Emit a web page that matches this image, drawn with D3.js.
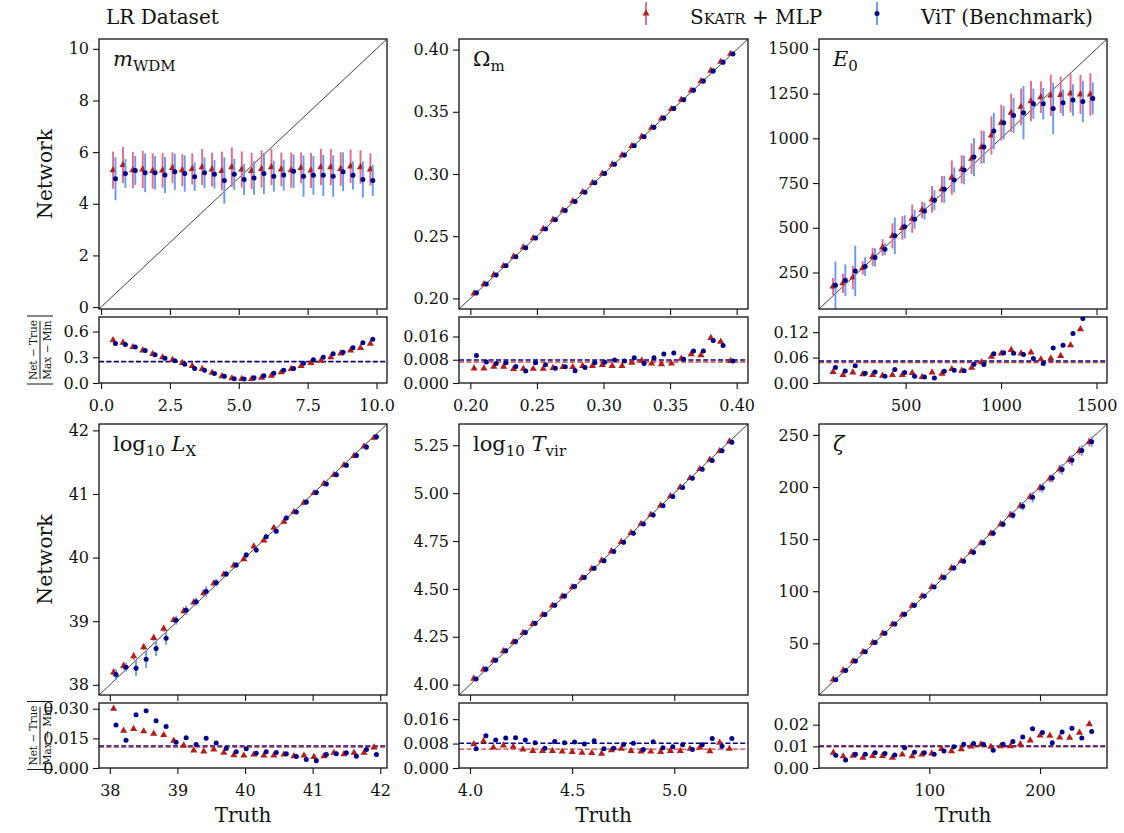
<!DOCTYPE html>
<html><head><meta charset="utf-8">
<script src="https://cdn.jsdelivr.net/npm/d3@7"></script>
<style>
body{margin:0;background:#fff}
svg{display:block}
text{font-family:"DejaVu Serif",serif;fill:#111}
</style>
</head><body><svg id="c" width="1124" height="833"></svg>
<script>
// ---------------- DATA ----------------
const seriesNames = ["SKATR + MLP", "ViT (Benchmark)"];

// m_WDM
const mwdmTruth = [0.480,0.839,1.198,1.557,1.917,2.276,2.635,2.994,3.354,3.713,4.072,4.431,4.791,5.150,5.509,5.869,6.228,6.587,6.946,7.306,7.665,8.024,8.383,8.743,9.102,9.461,9.820];
const mwdmSkatr = [5.30,5.50,5.30,5.33,5.27,5.29,5.39,5.30,5.35,5.42,5.33,5.27,5.42,5.33,5.27,5.35,5.42,5.33,5.30,5.39,5.29,5.42,5.42,5.35,5.45,5.42,5.33];
const mwdmSkatrErr = [0.72,0.70,0.70,0.72,0.68,0.67,0.60,0.62,0.60,0.70,0.65,0.75,0.77,0.70,0.70,0.72,0.70,0.65,0.68,0.60,0.68,0.70,0.70,0.65,0.65,0.65,0.62];
const mwdmVit = [4.97,5.17,5.29,5.20,5.20,5.11,5.24,5.17,5.05,5.20,5.14,4.90,5.14,4.94,5.00,5.17,5.07,5.11,5.26,5.07,5.10,5.10,5.07,5.24,5.10,4.94,4.90];
const mwdmVitErr = [0.83,0.56,0.56,0.75,0.65,0.70,0.70,0.70,0.55,0.60,0.55,0.90,0.60,0.60,0.65,0.80,0.60,0.60,0.65,0.80,0.75,0.80,0.80,0.75,0.55,0.70,0.60];
const mwdmSkatrRes = [0.50,0.47,0.42,0.38,0.34,0.30,0.27,0.235,0.20,0.165,0.12,0.08,0.055,0.047,0.047,0.063,0.086,0.125,0.165,0.20,0.235,0.26,0.30,0.345,0.38,0.41,0.46];
const mwdmVitRes = [0.46,0.45,0.42,0.38,0.33,0.29,0.26,0.22,0.17,0.15,0.11,0.08,0.05,0.047,0.06,0.086,0.114,0.15,0.17,0.23,0.27,0.30,0.34,0.36,0.41,0.47,0.51];
const mwdmAvg = [0.246, 0.250];

// Omega_m
const omTruth = [0.2037,0.2111,0.2185,0.2259,0.2333,0.2407,0.2481,0.2556,0.2630,0.2704,0.2778,0.2852,0.2926,0.3000,0.3074,0.3148,0.3222,0.3296,0.3370,0.3444,0.3519,0.3593,0.3667,0.3741,0.3815,0.3889,0.3963];
const omSkatr = [0.2040,0.2114,0.2189,0.2262,0.2336,0.2410,0.2484,0.2559,0.2633,0.2707,0.2781,0.2855,0.2929,0.3003,0.3077,0.3151,0.3226,0.3300,0.3373,0.3447,0.3522,0.3597,0.3671,0.3746,0.3830,0.3902,0.3966];
const omSkatrErr = [0.0015,0.0015,0.0016,0.0015,0.0014,0.0015,0.0015,0.0014,0.0015,0.0015,0.0016,0.0015,0.0015,0.0016,0.0015,0.0015,0.0016,0.0017,0.0016,0.0016,0.0016,0.0018,0.0019,0.0019,0.0022,0.0021,0.0017];
const omVit = [0.2045,0.2116,0.2188,0.2263,0.2335,0.2408,0.2485,0.2558,0.2632,0.2706,0.2779,0.2854,0.2930,0.3004,0.3079,0.3153,0.3228,0.3299,0.3376,0.3451,0.3527,0.3597,0.3674,0.3748,0.3828,0.3899,0.3965];
const omVitErr = [0.0020,0.0018,0.0017,0.0017,0.0016,0.0015,0.0017,0.0016,0.0015,0.0016,0.0015,0.0016,0.0017,0.0017,0.0018,0.0018,0.0019,0.0017,0.0019,0.0020,0.0021,0.0019,0.0022,0.0022,0.0025,0.0024,0.0018];
const omSkatrRes = [0.0050,0.0050,0.0056,0.0056,0.0048,0.0049,0.0049,0.0049,0.0052,0.0055,0.0055,0.0059,0.0059,0.0062,0.0059,0.0059,0.0070,0.0077,0.0067,0.0065,0.0067,0.0084,0.0099,0.0096,0.0155,0.0142,0.0076];
const omVitRes = [0.0095,0.0072,0.0067,0.0070,0.0057,0.0041,0.0070,0.0063,0.0051,0.0056,0.0042,0.0053,0.0070,0.0071,0.0079,0.0076,0.0087,0.0067,0.0087,0.0100,0.0103,0.0082,0.0110,0.0110,0.0146,0.0129,0.0076];
const omAvg = [0.0072, 0.0079];

// E_0
const e0Truth = [125.9,177.8,229.6,281.5,333.3,385.2,437.0,488.9,540.7,592.6,644.4,696.3,748.1,800.0,851.9,903.7,955.6,1007.4,1059.3,1111.1,1163.0,1214.8,1266.7,1318.5,1370.4,1422.2,1474.1];
const e0Skatr = [172,190,222,276,337,390,455,499,551,600,659,715,780,827,886,951,1016,1087,1143,1176,1208,1230,1240,1243,1251,1245,1245];
const e0SkatrErr = [48,54,65,37,51,46,70,65,79,46,74,74,96,79,86,93,107,100,107,102,112,88,116,102,107,109,119];
const e0Vit = [179,207,259,283,334,380,455,505,548,594,654,715,767,823,895,951,1041,1087,1128,1143,1193,1193,1167,1199,1214,1206,1223];
const e0VitErr = [133,88,141,52,51,33,102,65,53,48,56,75,70,80,107,90,102,93,98,149,84,88,144,74,88,116,90];
const e0SkatrRes = [0.026,0.019,0.025,0.021,0.019,0.0175,0.019,0.019,0.024,0.014,0.025,0.022,0.033,0.029,0.036,0.049,0.062,0.070,0.078,0.070,0.072,0.056,0.058,0.064,0.089,0.127,0.164];
const e0VitRes = [0.0366,0.0286,0.0405,0.023,0.026,0.016,0.032,0.025,0.016,0.014,0.012,0.028,0.030,0.029,0.0445,0.0437,0.069,0.0715,0.070,0.0675,0.058,0.046,0.0827,0.089,0.117,0.152,0.179];
const e0Avg = [0.0485, 0.052];

// log10 L_X
const lxTruth = [38.074,38.222,38.370,38.519,38.667,38.815,38.963,39.111,39.259,39.407,39.556,39.704,39.852,40.000,40.148,40.296,40.444,40.593,40.741,40.889,41.037,41.185,41.333,41.481,41.630,41.778,41.926];
const lxSkatr = [38.194,38.298,38.449,38.593,38.737,38.882,39.018,39.157,39.295,39.441,39.594,39.735,39.878,39.975,40.175,40.271,40.469,40.566,40.717,40.864,41.015,41.161,41.302,41.453,41.599,41.747,41.884];
const lxSkatrErr = [0.06,0.06,0.06,0.05,0.05,0.05,0.04,0.04,0.04,0.04,0.03,0.03,0.03,0.03,0.03,0.03,0.03,0.03,0.03,0.03,0.03,0.03,0.03,0.03,0.03,0.03,0.04];
const lxVit = [38.161,38.278,38.262,38.403,38.571,38.731,39.015,39.172,39.307,39.467,39.606,39.744,39.885,40.039,40.118,40.329,40.413,40.622,40.718,40.872,41.022,41.158,41.304,41.450,41.606,41.740,41.899];
const lxVitErr = [0.08,0.07,0.12,0.14,0.12,0.10,0.07,0.07,0.06,0.08,0.06,0.05,0.04,0.05,0.04,0.04,0.04,0.04,0.03,0.03,0.03,0.04,0.04,0.04,0.04,0.05,0.04];
const lxSkatrRes = [0.030,0.0189,0.0198,0.0186,0.0174,0.0167,0.0138,0.0114,0.0089,0.0084,0.0094,0.0077,0.0065,0.0063,0.0068,0.0063,0.0063,0.0068,0.0060,0.0063,0.0056,0.0060,0.0077,0.0070,0.0077,0.0078,0.0104];
const lxVitRes = [0.0218,0.0141,0.0269,0.0290,0.0239,0.0210,0.0130,0.0153,0.0119,0.0150,0.0126,0.0099,0.0082,0.0097,0.0075,0.0082,0.0078,0.0072,0.0058,0.0043,0.0037,0.0068,0.0072,0.0077,0.0060,0.0094,0.0068];
const lxAvg = [0.0106, 0.0112];

// log10 T_vir
const tvTruth = [4.024,4.072,4.120,4.169,4.217,4.265,4.313,4.361,4.409,4.457,4.506,4.554,4.602,4.650,4.698,4.746,4.794,4.843,4.891,4.939,4.987,5.035,5.083,5.131,5.180,5.228,5.276];
const tvSkatr = [4.031,4.079,4.126,4.175,4.222,4.270,4.317,4.365,4.413,4.461,4.509,4.557,4.605,4.649,4.697,4.745,4.792,4.840,4.888,4.936,4.984,5.031,5.079,5.126,5.175,5.220,5.270];
const tvSkatrErr = [0.012,0.013,0.011,0.012,0.011,0.010,0.010,0.010,0.010,0.010,0.010,0.009,0.009,0.009,0.010,0.010,0.010,0.010,0.010,0.010,0.010,0.010,0.011,0.011,0.010,0.013,0.011];
const tvVit = [4.030,4.080,4.128,4.177,4.225,4.272,4.320,4.366,4.415,4.463,4.512,4.559,4.608,4.647,4.695,4.743,4.790,4.839,4.886,4.934,4.982,5.029,5.078,5.125,5.171,5.221,5.266];
const tvVitErr = [0.011,0.016,0.014,0.015,0.015,0.014,0.013,0.011,0.013,0.013,0.013,0.012,0.013,0.011,0.011,0.012,0.012,0.011,0.013,0.011,0.011,0.012,0.011,0.012,0.014,0.012,0.014];
const tvSkatrRes = [0.0078,0.0088,0.0067,0.0074,0.0070,0.0061,0.0056,0.0056,0.0056,0.0054,0.0053,0.0050,0.0049,0.0047,0.0058,0.0063,0.0056,0.0054,0.0054,0.0053,0.0056,0.0056,0.0063,0.0067,0.0055,0.0083,0.0063];
const tvVitRes = [0.0063,0.0106,0.0092,0.0098,0.0099,0.0092,0.0083,0.0065,0.0087,0.0083,0.0085,0.0079,0.0089,0.0063,0.0065,0.0077,0.0081,0.0061,0.0086,0.0066,0.0070,0.0076,0.0061,0.0076,0.0097,0.0071,0.0097];
const tvAvg = [0.0062, 0.0081];

// zeta
const zTruth = [14.44,23.33,32.22,41.11,50.00,58.89,67.78,76.67,85.56,94.44,103.33,112.22,121.11,130.00,138.89,147.78,156.67,165.56,174.44,183.33,192.22,201.11,210.00,218.89,227.78,236.67,245.56];
const zSkatr = [15.3,24.0,32.9,41.7,50.7,59.5,68.3,77.4,86.2,95.2,104.1,113.3,122.1,129.0,137.7,146.5,155.5,164.4,173.2,182.0,190.7,199.3,208.2,217.2,226.1,234.7,243.2];
const zSkatrErr = [1.5,1.5,1.5,1.5,1.5,1.5,1.5,2.0,2.0,2.0,2.0,2.0,2.0,2.0,2.5,2.5,2.5,2.5,3.0,3.0,3.0,3.5,3.5,4.0,4.0,4.0,4.0];
const zVit = [15.1,23.8,33.0,41.9,50.9,59.7,68.5,77.8,86.5,95.3,104.1,113.2,122.3,128.7,137.5,146.5,155.7,164.3,173.0,181.6,190.1,199.2,208.6,216.9,225.6,235.0,243.5];
const zVitErr = [1.5,1.5,2.0,2.0,2.0,2.0,2.0,2.0,2.0,2.0,2.0,2.5,2.5,2.5,3.0,3.0,3.0,3.0,3.5,4.0,5.0,4.5,4.0,5.0,5.0,5.0,5.0];
const zSkatrRes = [0.0071,0.0054,0.0057,0.0047,0.0056,0.0056,0.0047,0.0062,0.0054,0.0062,0.0067,0.0088,0.0078,0.0087,0.0099,0.0109,0.0098,0.0101,0.0101,0.0110,0.0127,0.0150,0.0149,0.0141,0.0140,0.0163,0.0202];
const zVitRes = [0.0059,0.0037,0.0064,0.0064,0.0070,0.0067,0.0060,0.0093,0.0073,0.0070,0.0064,0.0079,0.0098,0.0110,0.0113,0.0110,0.0082,0.0110,0.0122,0.0143,0.0181,0.0164,0.0116,0.0166,0.0184,0.0138,0.0169];
const zAvg = [0.0098, 0.0102];

// axis limits and ticks
const mwdmLim = [-0.075, 10.38], mwdmYTicks = [0,2,4,6,8,10], mwdmXTicks = [0,2.5,5,7.5,10], mwdmResLim = [0,0.77], mwdmResTicks = [0,0.3,0.6];
const omLim = [0.1915, 0.4085], omYTicks = [0.20,0.25,0.30,0.35,0.40], omXTicks = [0.20,0.25,0.30,0.35,0.40], omResLim = [0,0.0227], omResTicks = [0,0.008,0.016];
const e0Lim = [46, 1555], e0YTicks = [250,500,750,1000,1250,1500], e0XTicks = [500,1000,1500], e0ResLim = [0,0.1557], e0ResTicks = [0,0.06,0.12];
const lxLim = [37.84, 42.1], lxYTicks = [38,39,40,41,42], lxXTicks = [38,39,40,41,42], lxResLim = [0,0.0329], lxResTicks = [0,0.015,0.030];
const tvLim = [3.946, 5.361], tvYTicks = [4.00,4.25,4.50,4.75,5.00,5.25], tvXTicks = [4.0,4.5,5.0], tvResLim = [0,0.0213], tvResTicks = [0,0.008,0.016];
const zLim = [0.4, 260.5], zYTicks = [50,100,150,200,250], zXTicks = [100,200], zResLim = [0,0.030], zResTicks = [0,0.01,0.02];

// ---------------- LAYOUT / STYLE ----------------
const cols = [[99,387],[459,748],[819,1107]];
const rowsG = [{main:[39,309], res:[317,383]}, {main:[424,695], res:[703,768]}];
const RED_BAR = "#e66a88", RED_MK = "#b51d1d", RED_DASH = "#cf3a3a";
const BLUE_BAR = "#6b98ec", BLUE_MK = "#00008b", BLUE_DASH = "#00008b";
const TICK_FS = 16;

const panels = [
  {col:0,row:0,lim:mwdmLim,yt:mwdmYTicks,yf:d3.format("d"),xt:mwdmXTicks,xf:d3.format(".1f"),rlim:mwdmResLim,rt:mwdmResTicks,rf:d3.format(".1f"),
   label:[{t:"m",it:1},{t:"WDM",sub:1}], truth:mwdmTruth, sk:mwdmSkatr, skE:mwdmSkatrErr, vit:mwdmVit, vitE:mwdmVitErr, skR:mwdmSkatrRes, vitR:mwdmVitRes, avg:mwdmAvg},
  {col:1,row:0,lim:omLim,yt:omYTicks,yf:d3.format(".2f"),xt:omXTicks,xf:d3.format(".2f"),rlim:omResLim,rt:omResTicks,rf:d3.format(".3f"),
   label:[{t:"Ω"},{t:"m",sub:1}], truth:omTruth, sk:omSkatr, skE:omSkatrErr, vit:omVit, vitE:omVitErr, skR:omSkatrRes, vitR:omVitRes, avg:omAvg},
  {col:2,row:0,lim:e0Lim,yt:e0YTicks,yf:d3.format("d"),xt:e0XTicks,xf:d3.format("d"),rlim:e0ResLim,rt:e0ResTicks,rf:d3.format(".2f"),
   label:[{t:"E",it:1},{t:"0",sub:1}], truth:e0Truth, sk:e0Skatr, skE:e0SkatrErr, vit:e0Vit, vitE:e0VitErr, skR:e0SkatrRes, vitR:e0VitRes, avg:e0Avg},
  {col:0,row:1,lim:lxLim,yt:lxYTicks,yf:d3.format("d"),xt:lxXTicks,xf:d3.format("d"),rlim:lxResLim,rt:lxResTicks,rf:d3.format(".3f"),
   label:[{t:"log"},{t:"10",sub:1},{t:" "},{t:"L",it:1},{t:"X",sub:1}], truth:lxTruth, sk:lxSkatr, skE:lxSkatrErr, vit:lxVit, vitE:lxVitErr, skR:lxSkatrRes, vitR:lxVitRes, avg:lxAvg},
  {col:1,row:1,lim:tvLim,yt:tvYTicks,yf:d3.format(".2f"),xt:tvXTicks,xf:d3.format(".1f"),rlim:tvResLim,rt:tvResTicks,rf:d3.format(".3f"),
   label:[{t:"log"},{t:"10",sub:1},{t:" "},{t:"T",it:1},{t:"vir",sub:1}], truth:tvTruth, sk:tvSkatr, skE:tvSkatrErr, vit:tvVit, vitE:tvVitErr, skR:tvSkatrRes, vitR:tvVitRes, avg:tvAvg},
  {col:2,row:1,lim:zLim,yt:zYTicks,yf:d3.format("d"),xt:zXTicks,xf:d3.format("d"),rlim:zResLim,rt:zResTicks,rf:d3.format(".2f"),
   label:[{t:"ζ",it:1}], truth:zTruth, sk:zSkatr, skE:zSkatrErr, vit:zVit, vitE:zVitErr, skR:zSkatrRes, vitR:zVitRes, avg:zAvg}
];

const svg = d3.select("#c");
const defs = svg.append("defs");
const tri = d3.symbol().type(d3.symbolTriangle);

function styleAxis(g){
  g.selectAll(".domain").remove();
  g.selectAll(".tick line").attr("stroke","#111").attr("stroke-width",1.1);
  g.selectAll(".tick text").attr("font-size",TICK_FS).attr("font-family","DejaVu Serif").attr("fill","#111");
}

function addLabel(g, parts, x, y){
  const t = g.append("text").attr("x",x).attr("y",y).attr("font-size",21);
  let shift = 0;
  parts.forEach(p=>{
    const target = p.sub ? 5 : 0;
    t.append("tspan").text(p.t)
      .attr("dy", target - shift)
      .attr("font-size", p.sub ? 15 : 21)
      .attr("font-style", p.it ? "italic" : "normal");
    shift = target;
  });
}

function residualYLabel(cx, cy){
  const g = svg.append("g").attr("transform",`translate(${cx},${cy}) rotate(-90)`);
  g.append("text").attr("x",0).attr("y",-3).attr("text-anchor","middle").attr("font-size",10.5).text("Net − True");
  g.append("text").attr("x",0).attr("y",10.5).attr("text-anchor","middle").attr("font-size",10.5).text("Max − Min");
  g.append("line").attr("x1",-29).attr("x2",29).attr("y1",0).attr("y2",0).attr("stroke","#111").attr("stroke-width",1);
  [-34,34].forEach(x=>g.append("line").attr("x1",x).attr("x2",x).attr("y1",-13).attr("y2",13).attr("stroke","#111").attr("stroke-width",1));
}

panels.forEach((p,i)=>{
  const [x0,x1] = cols[p.col];
  const R = rowsG[p.row];
  const x = d3.scaleLinear().domain(p.lim).range([x0,x1]);
  const y = d3.scaleLinear().domain(p.lim).range([R.main[1],R.main[0]]);
  const yr = d3.scaleLinear().domain(p.rlim).range([R.res[1],R.res[0]]);
  const dx = (p.truth[1]-p.truth[0])*0.12;

  defs.append("clipPath").attr("id","cm"+i).append("rect").attr("x",x0).attr("y",R.main[0]).attr("width",x1-x0).attr("height",R.main[1]-R.main[0]);
  defs.append("clipPath").attr("id","cr"+i).append("rect").attr("x",x0).attr("y",R.res[0]).attr("width",x1-x0).attr("height",R.res[1]-R.res[0]);

  // main panel
  const gm = svg.append("g").attr("clip-path",`url(#cm${i})`);
  gm.append("line").attr("x1",x(p.lim[0])).attr("y1",y(p.lim[0])).attr("x2",x(p.lim[1])).attr("y2",y(p.lim[1]))
    .attr("stroke","#111").attr("stroke-width",0.8);
  const series = [
    {m:p.sk, e:p.skE, off:-dx, bar:RED_BAR, mk:RED_MK, tri:true},
    {m:p.vit, e:p.vitE, off:dx, bar:BLUE_BAR, mk:BLUE_MK, tri:false}
  ];
  series.forEach(s=>{
    const g = gm.append("g");
    p.truth.forEach((t,k)=>{
      const xx = x(t+s.off);
      g.append("line").attr("x1",xx).attr("x2",xx).attr("y1",y(s.m[k]-s.e[k])).attr("y2",y(s.m[k]+s.e[k]))
        .attr("stroke",s.bar).attr("stroke-width",1.9);
    });
    p.truth.forEach((t,k)=>{
      const xx = x(t+s.off), yy = y(s.m[k]);
      if(s.tri) g.append("path").attr("d",tri.size(22)()).attr("transform",`translate(${xx},${yy})`).attr("fill",s.mk);
      else g.append("circle").attr("cx",xx).attr("cy",yy).attr("r",2.5).attr("fill",s.mk);
    });
  });
  svg.append("rect").attr("x",x0).attr("y",R.main[0]).attr("width",x1-x0).attr("height",R.main[1]-R.main[0])
    .attr("fill","none").attr("stroke","#111").attr("stroke-width",1.3);
  svg.append("g").attr("transform",`translate(${x0},0)`).call(d3.axisLeft(y).tickValues(p.yt).tickFormat(p.yf).tickSize(6).tickPadding(4)).call(styleAxis);
  svg.append("g").attr("transform",`translate(0,${R.main[1]})`).call(d3.axisBottom(x).tickValues(p.xt).tickFormat("").tickSize(6)).call(styleAxis);
  addLabel(svg, p.label, x0+14, R.main[0]+27);

  // residual panel
  const gr = svg.append("g").attr("clip-path",`url(#cr${i})`);
  [[p.avg[0],RED_DASH],[p.avg[1],BLUE_DASH]].forEach(([v,c])=>{
    gr.append("line").attr("x1",x0).attr("x2",x1).attr("y1",yr(v)).attr("y2",yr(v))
      .attr("stroke",c).attr("stroke-width",1.4).attr("stroke-dasharray","5,2.4");
  });
  p.truth.forEach((t,k)=>{
    gr.append("path").attr("d",tri.size(22)()).attr("transform",`translate(${x(t-dx)},${yr(p.skR[k])})`).attr("fill",RED_MK);
  });
  p.truth.forEach((t,k)=>{
    gr.append("circle").attr("cx",x(t+dx)).attr("cy",yr(p.vitR[k])).attr("r",2.5).attr("fill",BLUE_MK);
  });
  svg.append("rect").attr("x",x0).attr("y",R.res[0]).attr("width",x1-x0).attr("height",R.res[1]-R.res[0])
    .attr("fill","none").attr("stroke","#111").attr("stroke-width",1.3);
  svg.append("g").attr("transform",`translate(${x0},0)`).call(d3.axisLeft(yr).tickValues(p.rt).tickFormat(p.rf).tickSize(6).tickPadding(4)).call(styleAxis);
  svg.append("g").attr("transform",`translate(0,${R.res[1]})`).call(d3.axisBottom(x).tickValues(p.xt).tickFormat(p.xf).tickSize(6).tickPadding(11)).call(styleAxis);

  if(p.col===0){
    svg.append("text").attr("transform",`translate(52,${(R.main[0]+R.main[1])/2}) rotate(-90)`)
      .attr("text-anchor","middle").attr("font-size",20.5).text("Network");
    residualYLabel(40,(R.res[0]+R.res[1])/2);
  }
  if(p.row===1){
    svg.append("text").attr("x",(x0+x1)/2).attr("y",822).attr("text-anchor","middle").attr("font-size",20).text("Truth");
  }
});

// title
svg.append("text").attr("x",106).attr("y",24).attr("font-size",20).text("LR Dataset");

// legend
function legendItem(cx, tx, isTri, parts){
  const g = svg.append("g");
  g.append("line").attr("x1",cx).attr("x2",cx).attr("y1",2).attr("y2",25).attr("stroke",isTri?RED_BAR:BLUE_BAR).attr("stroke-width",1.9);
  if(isTri) g.append("path").attr("d",tri.size(22)()).attr("transform",`translate(${cx},13.5)`).attr("fill",RED_MK);
  else g.append("circle").attr("cx",cx).attr("cy",13.5).attr("r",2.5).attr("fill",BLUE_MK);
  const t = g.append("text").attr("x",tx).attr("y",24).attr("font-size",20);
  parts.forEach(pt=>t.append("tspan").attr("font-size",pt.fs).text(pt.t));
}
legendItem(646, 690, true, [{t:"S",fs:20},{t:"KATR",fs:15},{t:" + MLP",fs:20}]);
legendItem(877, 921, false, [{t:"ViT (Benchmark)",fs:20}]);
</script></body></html>
